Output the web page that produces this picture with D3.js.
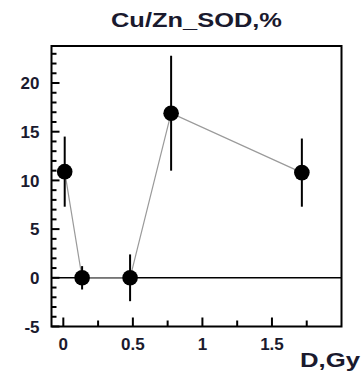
<!DOCTYPE html>
<html>
<head>
<meta charset="utf-8">
<script src="https://cdn.jsdelivr.net/npm/d3@7"></script>
<style>
  html, body { margin: 0; padding: 0; background: #fff; }
  svg { display: block; }
  text { font-family: "Liberation Sans", Arial, Helvetica, sans-serif; font-weight: bold; fill: #1a1a2e; }
</style>
</head>
<body>
<script>
// Dose (Gy) and Cu/Zn SOD change (%), with error half-widths
const doses  = [0.01, 0.135, 0.48, 0.775, 1.715];
const values = [10.9, 0.0, 0.0, 16.9, 10.8];
const errors = [3.6, 1.2, 2.4, 5.9, 3.5];
const xMajorTicks = [0, 0.5, 1, 1.5];
const xMinorTicks = [0.25, 0.75, 1.25, 1.75];
const yMajorTicks = [-5, 0, 5, 10, 15, 20];
const yMinorTicks = [-4, -3, -2, -1, 1, 2, 3, 4, 6, 7, 8, 9, 11, 12, 13, 14, 16, 17, 18, 19, 21, 22, 23];
const title = "Cu/Zn_SOD,%";
const xTitle = "D,Gy";

const W = 362, H = 378;
const L = 51.5, R = 341.5, T = 46, B = 326.5;

const svg = d3.select("body").append("svg").attr("width", W).attr("height", H);

const x = d3.scaleLinear().domain([-0.085, 2.0]).range([L, R]);
const y = d3.scaleLinear().domain([-5, 23.8]).range([B, T]);

// Title
svg.append("text")
  .attr("x", 196.5).attr("y", 26.5)
  .attr("text-anchor", "middle")
  .attr("font-size", 21)
  .attr("textLength", 171).attr("lengthAdjust", "spacingAndGlyphs")
  .text(title);

// Y ticks, pointing into the frame
const yTicks = svg.append("g");
yTicks.selectAll("line.minor").data(yMinorTicks).join("line").attr("class", "minor")
  .attr("x1", L).attr("x2", L + 5).attr("y1", d => y(d)).attr("y2", d => y(d))
  .attr("stroke", "#000").attr("stroke-width", 2);
yTicks.selectAll("line.major").data(yMajorTicks).join("line").attr("class", "major")
  .attr("x1", L).attr("x2", L + 8).attr("y1", d => y(d)).attr("y2", d => y(d))
  .attr("stroke", "#000").attr("stroke-width", 2);
yTicks.selectAll("text").data(yMajorTicks).join("text")
  .attr("x", L - 12).attr("y", d => y(d)).attr("dy", "0.36em")
  .attr("text-anchor", "end").attr("font-size", 17)
  .text(d => d);

// X ticks, pointing into the frame
const xTicks = svg.append("g");
xTicks.selectAll("line.minor").data(xMinorTicks).join("line").attr("class", "minor")
  .attr("x1", d => x(d)).attr("x2", d => x(d)).attr("y1", B).attr("y2", B - 6)
  .attr("stroke", "#000").attr("stroke-width", 2);
xTicks.selectAll("line.major").data(xMajorTicks).join("line").attr("class", "major")
  .attr("x1", d => x(d)).attr("x2", d => x(d)).attr("y1", B).attr("y2", B - 9)
  .attr("stroke", "#000").attr("stroke-width", 2);
xTicks.selectAll("text").data(xMajorTicks).join("text")
  .attr("x", d => x(d)).attr("y", B + 23)
  .attr("text-anchor", "middle").attr("font-size", 17)
  .text(d => d);

// Zero reference line
svg.append("line")
  .attr("x1", L).attr("x2", R).attr("y1", y(0)).attr("y2", y(0))
  .attr("stroke", "#000").attr("stroke-width", 1.6);

// Connecting line
const pts = doses.map((d, i) => [d, values[i], errors[i]]);
svg.append("path")
  .datum(pts)
  .attr("fill", "none").attr("stroke", "#9a9a9a").attr("stroke-width", 1.2)
  .attr("d", d3.line().x(d => x(d[0])).y(d => y(d[1])));

// Error bars
svg.append("g").selectAll("line").data(pts).join("line")
  .attr("x1", d => x(d[0])).attr("x2", d => x(d[0]))
  .attr("y1", d => y(d[1] + d[2])).attr("y2", d => y(d[1] - d[2]))
  .attr("stroke", "#000").attr("stroke-width", 2);

// Markers
svg.append("g").selectAll("circle").data(pts).join("circle")
  .attr("cx", d => x(d[0])).attr("cy", d => y(d[1])).attr("r", 7.8)
  .attr("fill", "#000");

// Frame
svg.append("rect")
  .attr("x", L).attr("y", T).attr("width", R - L).attr("height", B - T)
  .attr("fill", "none").attr("stroke", "#000").attr("stroke-width", 2);

// X axis title
svg.append("text")
  .attr("x", 360).attr("y", 367)
  .attr("text-anchor", "end")
  .attr("font-size", 20)
  .attr("textLength", 60).attr("lengthAdjust", "spacingAndGlyphs")
  .text(xTitle);
</script>
</body>
</html>
